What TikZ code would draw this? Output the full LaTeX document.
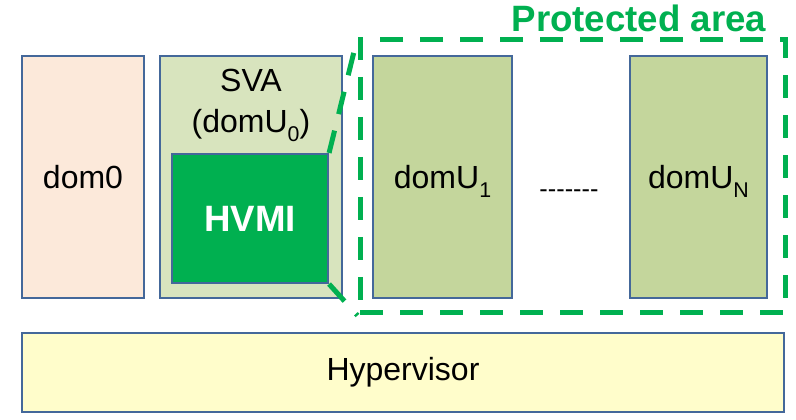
\documentclass[tikz,border=0pt]{standalone}
\usepackage{fontspec}
\setmainfont{Liberation Sans}
\usetikzlibrary{positioning}
\definecolor{boxline}{HTML}{44689A}
\definecolor{domzero}{HTML}{FCE9DA}
\definecolor{svafill}{HTML}{D8E4BE}
\definecolor{domufill}{HTML}{C4D69C}
\definecolor{hvmigreen}{HTML}{00B050}
\definecolor{hypfill}{HTML}{FFFDCB}
\newcommand{\dsub}[1]{\raisebox{-6.5pt}[0pt][0pt]{\fontsize{16}{16}\selectfont #1}}
\begin{document}
\begin{tikzpicture}[x=0.75pt,y=-0.75pt,
    vm/.style={draw=boxline,line width=1.6pt,rectangle,inner sep=0pt,
      minimum height=181.5pt,font=\fontsize{24}{30}\selectfont},
    protline/.style={draw=hvmigreen,line width=3.75pt,
      dash pattern=on 17.25pt off 12.75pt}]
  \useasboundingbox (0,0) rectangle (796,420);
  \node[vm,fill=domzero,minimum width=91.5pt] (dom0) at (83,177) {dom0};
  \node[vm,fill=svafill,minimum width=136.5pt] (SVA) at (251,177) {};
  \node[align=center,font=\fontsize{24}{31}\selectfont] (SVAtxt) at (251,104)
    {SVA\\(domU\dsub{0})};
  \node[vm,fill=hvmigreen,minimum width=117pt,minimum height=96.75pt,
    text=white,font=\fontsize{27.5}{30}\selectfont\bfseries] (HVMI) at (250,218.5) {HVMI};
  \node[vm,fill=domufill,minimum width=104.25pt] (U1) at (442.5,177) {domU\dsub{1}};
  \node[vm,fill=domufill,minimum width=102.75pt] (UN) at (698.5,177) {domU\dsub{N}};
  \node[font=\fontsize{19}{19}\selectfont] (dots) at (569,194) {-{}-{}-{}-{}-{}-{}-};
  \node[vm,fill=hypfill,minimum width=571.5pt,minimum height=59.25pt] (hyp) at (403,372.5) {Hypervisor};
  \node[protline,rectangle,inner sep=0pt,minimum width=318.75pt,minimum height=204.75pt] (prot) at (572.5,176.5) {};
  \node[text=hvmigreen,font=\fontsize{27.5}{30}\selectfont\bfseries] (ptitle) at (639,18) {Protected area};
  \draw[protline] (HVMI.north east) -- (prot.north west);
  \draw[protline] (HVMI.south east) -- (prot.south west);
\end{tikzpicture}
\end{document}
